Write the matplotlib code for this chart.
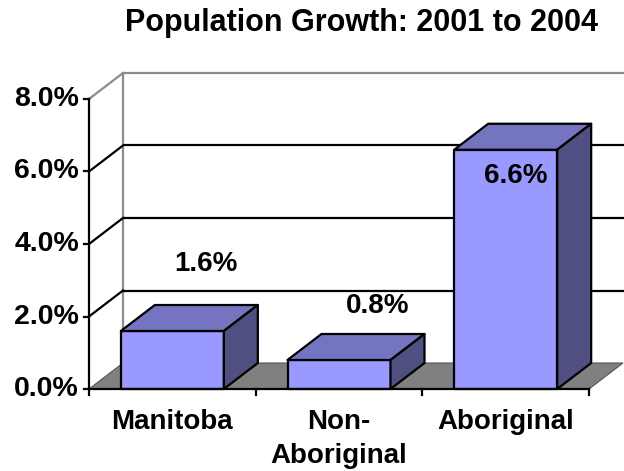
import numpy as np
import matplotlib.pyplot as plt
from matplotlib.patches import Polygon

## Donnees du graphique
categories = ['Manitoba', 'Non-\nAboriginal', 'Aboriginal']
growth = [1.6, 0.8, 6.6]                  # croissance en %
yticks = [0.0, 2.0, 4.0, 6.0, 8.0]
title = 'Population Growth: 2001 to 2004'

## Mise en page (pixels de la figure 624x471)
W, H = 624, 471
slot = 166.67      # px par categorie
pct = 36.25        # px par %
x_front = 89       # bord gauche du plan avant
y_zero = 389       # ligne 0% du plan avant
ddx = 34 / slot    # decalage de profondeur (x)
ddy = 26 / pct     # decalage de profondeur (y)
bw = 103 / slot    # largeur des barres
ymax = 8.0
xmin, xmax = -0.5, len(categories) - 0.5

front = '#9999FF'
top = '#7474C0'
side = '#4F4F82'
floor_c = '#808080'
wall_line = '#8C8C8C'

plt.rcParams['font.family'] = ['Liberation Sans', 'DejaVu Sans']
plt.rcParams['font.weight'] = 'bold'

fig = plt.figure(figsize=(W / 100, H / 100), dpi=100)
ax = fig.add_axes([0, 0, 1, 1])
ax.set_xlim(-x_front / slot - 0.5, (W - x_front) / slot - 0.5)
ax.set_ylim(-(H - y_zero) / pct, y_zero / pct)
ax.set_axis_off()

lw = 1.6

# sol (gris)
ax.add_patch(Polygon([(xmin, 0), (xmax, 0), (xmax + ddx, ddy), (xmin + ddx, ddy)],
                     closed=True, fc=floor_c, ec='#555555', lw=0.8, zorder=1))

# murs : grille arriere et laterale
for v in yticks[1:]:
    c = wall_line if v == ymax else 'black'
    ax.plot([xmin + ddx, xmax + ddx + 0.2], [v + ddy, v + ddy], color=c, lw=lw, zorder=0.5,
            solid_capstyle='butt')
    ax.plot([xmin, xmin + ddx], [v, v + ddy], color=c, lw=lw, zorder=0.5)
ax.plot([xmin + ddx, xmin + ddx], [ddy, ymax + ddy], color=wall_line, lw=lw, zorder=0.4)

# axes avant
ax.plot([xmin, xmin], [0, ymax], color='black', lw=lw, zorder=5)
ax.plot([xmin, xmax], [0, 0], color='black', lw=lw, zorder=5)
for v in yticks:
    ax.plot([xmin - 5 / slot, xmin], [v, v], color='black', lw=lw, zorder=5)
    ax.annotate('%.1f%%' % v, (xmin, v), xytext=(-10, 0), textcoords='offset pixels',
                ha='right', va='center', fontsize=20.5, fontweight='bold')
for i in range(len(categories) + 1):
    xt = xmin + i
    ax.plot([xt, xt], [0, -6 / pct], color='black', lw=lw, zorder=5)

# barres 3D
for i, v in enumerate(growth):
    x0, x1 = i - bw / 2, i + bw / 2
    ax.add_patch(Polygon([(x0, 0), (x1, 0), (x1, v), (x0, v)], closed=True,
                         fc=front, ec='black', lw=lw, zorder=3, joinstyle='round'))
    ax.add_patch(Polygon([(x0, v), (x1, v), (x1 + ddx, v + ddy), (x0 + ddx, v + ddy)],
                         closed=True, fc=top, ec='black', lw=lw, zorder=3, joinstyle='round'))
    ax.add_patch(Polygon([(x1, 0), (x1 + ddx, ddy), (x1 + ddx, v + ddy), (x1, v)],
                         closed=True, fc=side, ec='black', lw=lw, zorder=3, joinstyle='round'))

# etiquettes des valeurs
label_off = [(34, 67), (39, 54), (10, -26)]
for i, v in enumerate(growth):
    ax.annotate('%.1f%%' % v, (i, v), xytext=label_off[i], textcoords='offset pixels',
                ha='center', va='center', fontsize=20, fontweight='bold', zorder=6)

# etiquettes des categories
for i, c in enumerate(categories):
    ax.annotate(c, (i, 0), xytext=(0, -20), textcoords='offset pixels',
                ha='center', va='top', fontsize=20, fontweight='bold', linespacing=1.4)

fig.text(361 / W, 1 - 31 / H, title, ha='center', va='baseline',
         fontsize=22, fontweight='bold')

plt.savefig('out.png', dpi=100)
